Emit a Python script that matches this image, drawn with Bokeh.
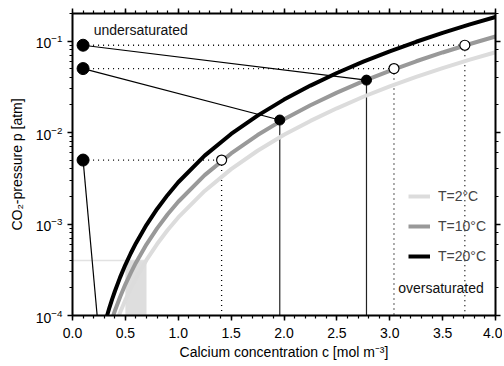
from bokeh.plotting import figure
from bokeh.models import (ColumnDataSource, LinearAxis, LogAxis, SingleIntervalTicker,
                          PrintfTickFormatter, Legend, LegendItem, Label, Range1d, LogTicker)
from bokeh.embed import file_html
from bokeh.resources import INLINE

# ---- data ----
c_curve = [0.30, 0.325, 0.35, 0.375, 0.40, 0.45, 0.50, 0.55, 0.60, 0.70, 0.80, 0.90, 1.00,
           1.25, 1.50, 1.75, 2.00, 2.25, 2.50, 2.75, 3.00, 3.25, 3.50, 3.75, 4.00]
p_2C = [3.2e-5, 4.05e-5, 5.1e-5, 6.2e-5, 7.6e-5, 1.08e-4, 1.48e-4, 1.96e-4, 2.55e-4, 4.05e-4,
        6.04e-4, 8.6e-4, 1.18e-3, 2.30e-3, 3.98e-3, 6.32e-3, 9.44e-3, 1.34e-2, 1.84e-2,
        2.46e-2, 3.19e-2, 4.05e-2, 5.06e-2, 6.22e-2, 7.55e-2]
p_10C = [4.7e-5, 6.0e-5, 7.5e-5, 9.2e-5, 1.12e-4, 1.59e-4, 2.19e-4, 2.91e-4, 3.78e-4, 6.0e-4,
         8.96e-4, 1.28e-3, 1.75e-3, 3.42e-3, 5.91e-3, 9.38e-3, 1.40e-2, 1.99e-2, 2.73e-2,
         3.64e-2, 4.73e-2, 6.01e-2, 7.50e-2, 9.23e-2, 0.112]
p_20C = [7.7e-5, 9.8e-5, 1.23e-4, 1.51e-4, 1.83e-4, 2.61e-4, 3.58e-4, 4.76e-4, 6.18e-4, 9.81e-4,
         1.46e-3, 2.08e-3, 2.86e-3, 5.59e-3, 9.65e-3, 1.53e-2, 2.29e-2, 3.26e-2, 4.47e-2,
         5.95e-2, 7.72e-2, 9.82e-2, 0.123, 0.151, 0.183]

c_start = [0.1, 0.1, 0.1]
p_start = [0.09, 0.05, 0.005]
c_equil = [3.71, 3.04, 1.41]          # open circles
c_final = [2.78, 1.96]                # filled circles on the 10 C curve
p_final = [0.0374, 0.0137]
c_end3, p_end3 = 0.233, 1e-4          # third path leaves the plot
p_atm = 4e-4
c_shade = [0.5, 0.7]
p_bottom = 1e-4

FONT = "Liberation Sans"

p = figure(width=502, height=364, y_axis_type="log", output_backend="svg",
           toolbar_location=None, x_range=Range1d(0, 4), y_range=Range1d(1e-4, 0.2),
           min_border_left=72, min_border_right=7, min_border_top=13, min_border_bottom=49)
p.xgrid.visible = False
p.ygrid.visible = False
p.outline_line_color = None

# shaded region and atmospheric line
p.quad(left=[c_shade[0]], right=[c_shade[1]], bottom=[p_bottom], top=[p_atm],
       fill_color="#dedede", line_color=None)
p.line([0, c_shade[1]], [p_atm, p_atm], line_color="#e2e2e2", line_width=1.5)

# dotted horizontal and vertical lines to the open circles
for cs, ps, ce in zip(c_start, p_start, c_equil):
    p.line([cs, ce], [ps, ps], line_color="black", line_width=1.3, line_dash="1 4")
    p.line([ce, ce], [ps, p_bottom], line_color="black", line_width=1.3, line_dash="1 4")

# solid paths
p.line([c_start[0], c_final[0]], [p_start[0], p_final[0]], line_color="black", line_width=1.2)
p.line([c_start[1], c_final[1]], [p_start[1], p_final[1]], line_color="black", line_width=1.2)
p.line([c_start[2], c_end3], [p_start[2], p_end3], line_color="black", line_width=1.2)
for cf, pf in zip(c_final, p_final):
    p.line([cf, cf], [pf, p_bottom], line_color="#222222", line_width=1.2)

# saturation curves
src = ColumnDataSource(dict(c=c_curve, p2=p_2C, p10=p_10C, p20=p_20C))
r2 = p.line("c", "p2", source=src, line_color="#dcdcdc", line_width=4)
r10 = p.line("c", "p10", source=src, line_color="#999999", line_width=4)
r20 = p.line("c", "p20", source=src, line_color="black", line_width=4)

# markers
p.scatter(c_start, p_start, size=12, fill_color="black", line_color="black")
p.scatter(c_equil, p_start, size=10, fill_color="white", line_color="black", line_width=1.2)
p.scatter(c_final, p_final, size=10, fill_color="black", line_color="black")

# labels
p.add_layout(Label(x=0.2, y=0.132, text="undersaturated", text_font=FONT,
                   text_font_size="14px", text_baseline="middle", text_color="#111111"))
p.add_layout(Label(x=3.08, y=2.02e-4, text="oversaturated", text_font=FONT,
                   text_font_size="14px", text_baseline="middle", text_color="#111111"))

legend = Legend(items=[LegendItem(label="T=2°C", renderers=[r2]),
                       LegendItem(label="T=10°C", renderers=[r10]),
                       LegendItem(label="T=20°C", renderers=[r20])],
                location=(336, 49), margin=0, padding=0, spacing=10,
                glyph_width=22, glyph_height=20, label_height=20, label_standoff=8,
                border_line_color=None, background_fill_alpha=0,
                label_text_font=FONT, label_text_font_size="14px")
p.add_layout(legend)

# axes
xa = p.below[0]
ya = p.left[0]
xa.ticker = SingleIntervalTicker(interval=0.5, num_minor_ticks=5)
xa.formatter = PrintfTickFormatter(format="%.1f")
xa.axis_label = "Calcium concentration c [mol m\u207b\u00b3]"
ya.axis_label = "CO\u2082-pressure p [atm]"

top = LinearAxis(ticker=SingleIntervalTicker(interval=0.5, num_minor_ticks=5))
right = LogAxis(ticker=LogTicker())
for ax in (top, right):
    ax.major_label_text_font_size = "1px"
    ax.major_label_text_alpha = 0
    ax.major_label_standoff = 0
p.add_layout(top, "above")
p.add_layout(right, "right")

for ax in (xa, ya, top, right):
    ax.axis_line_width = 2
    ax.axis_line_color = "black"
    ax.major_tick_line_width = 1.5
    ax.minor_tick_line_width = 1.2
    ax.major_tick_line_color = "black"
    ax.minor_tick_line_color = "black"
    ax.major_tick_in = 0
    ax.major_tick_out = 5
    ax.minor_tick_in = 0
    ax.minor_tick_out = 3
for ax in (xa, ya):
    ax.major_label_text_font = FONT
    ax.major_label_text_color = "black"
    ax.major_label_text_font_size = "14px"
    ax.axis_label_text_font = FONT
    ax.axis_label_text_font_style = "normal"
    ax.axis_label_text_color = "black"
    ax.axis_label_text_font_size = "14px"
xa.major_label_standoff = 7
xa.axis_label_standoff = 3
ya.major_label_standoff = 5
ya.axis_label_standoff = 8

open("out.html", "w").write(file_html(p, INLINE))
